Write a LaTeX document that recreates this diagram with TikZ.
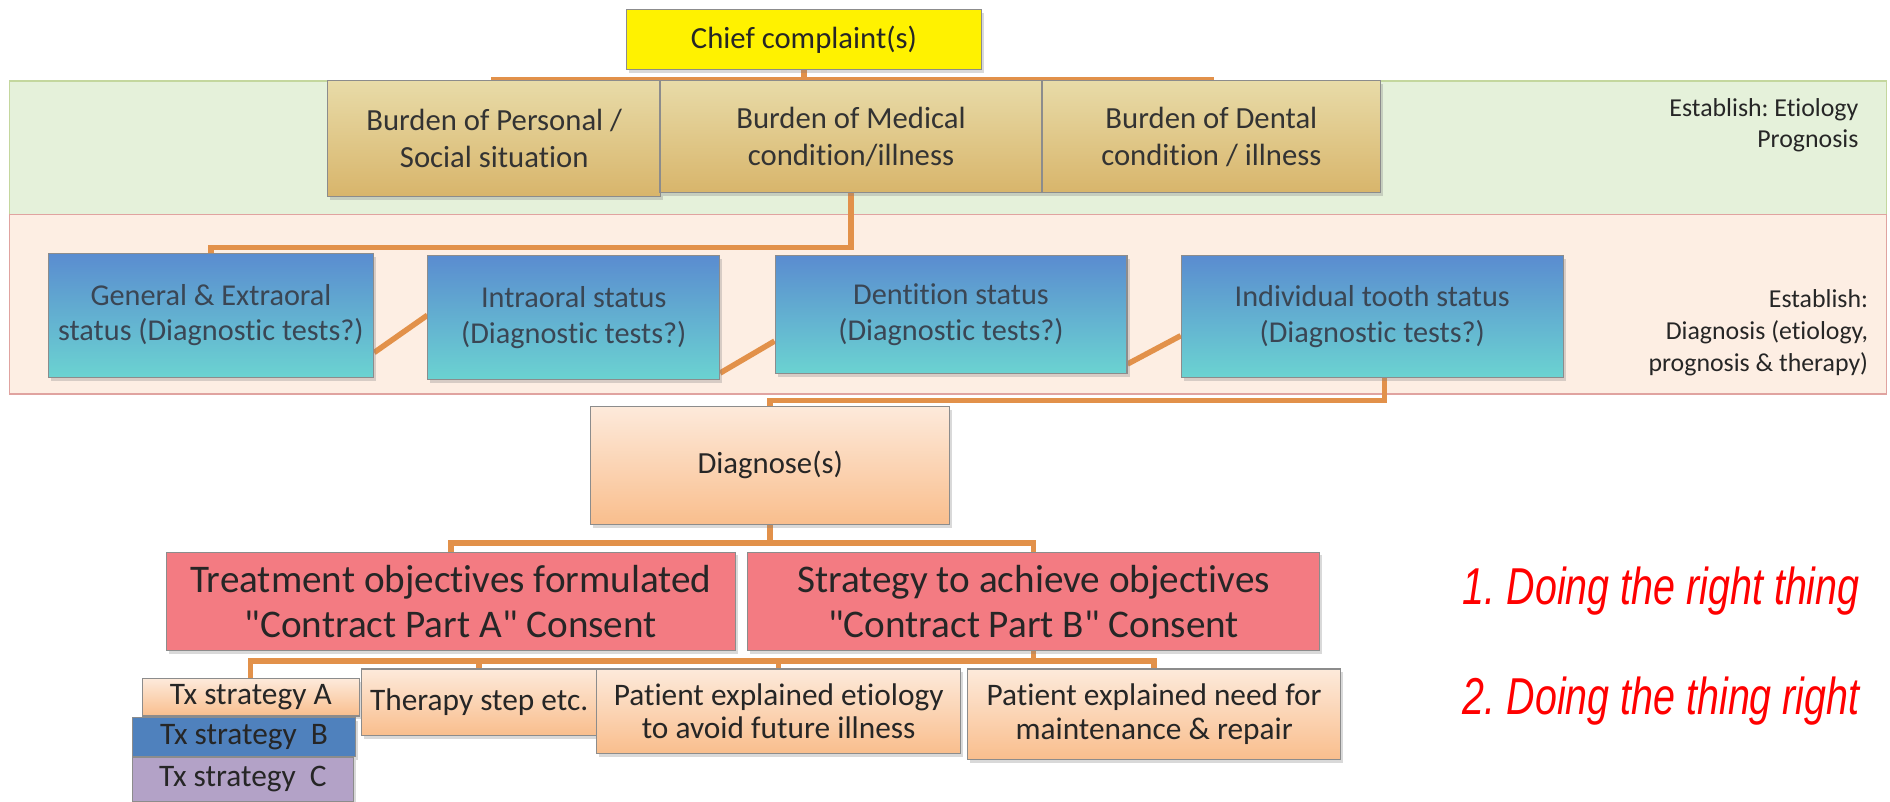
\documentclass[tikz,border=0pt]{standalone}
\usepackage{fontspec}
\setmainfont{Carlito}[Ligatures={TeXOff,NoCommon}]
\newfontfamily\mottofont[FakeStretch=0.76]{Liberation Sans}
\usetikzlibrary{calc, shadows}
\frenchspacing

\definecolor{connorange}{HTML}{E2914A}
\definecolor{greenband}{HTML}{E5F1DA}
\definecolor{greenline}{HTML}{C4D79E}
\definecolor{salmonband}{HTML}{FDEEE3}
\definecolor{salmonline}{HTML}{E0A3A0}
\definecolor{burdtop}{HTML}{E8DBA8}
\definecolor{burdbot}{HTML}{D8B56B}
\definecolor{statustop}{HTML}{5A8CD0}
\definecolor{statusbot}{HTML}{6BD3D1}
\definecolor{statustext}{HTML}{3A4654}
\definecolor{peachtop}{HTML}{FDEADB}
\definecolor{peachbot}{HTML}{F9BE8D}
\definecolor{contractred}{HTML}{F37B82}
\definecolor{txblue}{HTML}{4F81BD}
\definecolor{txlilac}{HTML}{B3A2C7}

\pgfdeclarelayer{bands}
\pgfdeclarelayer{lines}
\pgfsetlayers{bands,lines,main}

\tikzstyle{box} = [rectangle, draw=black!45, line width=0.5pt, align=center, text centered, inner sep=1pt, drop shadow={shadow xshift=1.2pt, shadow yshift=-1.6pt, opacity=0.3}]
\tikzstyle{chief} = [box, fill=yellow, text=black!85, minimum width=5.9cm, minimum height=1cm, font=\fontsize{14.5}{17}\selectfont]
\tikzstyle{burden} = [box, top color=burdtop, bottom color=burdbot, text=black!80, minimum height=1.86cm, font=\fontsize{14.5}{17.5}\selectfont]
\tikzstyle{status} = [box, top color=statustop, bottom color=statusbot, text=statustext, font=\fontsize{14.3}{16.8}\selectfont]
\tikzstyle{diag} = [box, top color=peachtop, bottom color=peachbot, text=black!85, font=\fontsize{14.5}{17}\selectfont]
\tikzstyle{contract} = [box, fill=contractred, text=black!85, minimum height=1.64cm, font=\fontsize{18.5}{21.5}\selectfont]
\tikzstyle{txbox} = [box, inner sep=0pt, text=black!85, font=\fontsize{14.8}{16}\selectfont]
\tikzstyle{explain} = [box, top color=peachtop, bottom color=peachbot, text=black!85, font=\fontsize{14.8}{15.8}\selectfont]
\tikzstyle{note} = [anchor=east, align=right, text=black!85, font=\fontsize{12.2}{15}\selectfont]
\tikzstyle{motto} = [anchor=east, text=red, font=\mottofont\itshape\fontsize{24.5}{28}\selectfont]
\tikzstyle{conn} = [draw=connorange, line width=2.6pt]

\begin{document}
\begin{tikzpicture}[x=0.02cm, y=-0.02cm]
\useasboundingbox (0,0) rectangle (1568,665);

% Bands
\begin{pgfonlayer}{bands}
\draw [fill=greenband, draw=greenline, line width=0.8pt] (8,67) rectangle (1565,178);
\draw [fill=salmonband, draw=salmonline, line width=0.8pt] (8,178) rectangle (1565,327);
\end{pgfonlayer}

\node (chief) [chief] at (667,33) {Chief complaint(s)};

\node (personal) [burden, minimum width=5.52cm, minimum height=1.92cm] at (410,115) {Burden of Personal /\\Social situation};
\node (medical) [burden, minimum width=6.34cm] at (706,113.5) {Burden of Medical\\condition/illness};
\node (dental) [burden, minimum width=5.6cm] at (1005,113.5) {Burden of Dental\\condition / illness};
\node (noteA) [note] at (1548,104) {Establish: Etiology\\Prognosis};

\node (general) [status, minimum width=5.4cm, minimum height=2.06cm] at (175,261.5) {General \& Extraoral\\status (Diagnostic tests?)};
\node (intraoral) [status, minimum width=4.84cm, minimum height=2.06cm] at (476,263.5) {Intraoral status\\(Diagnostic tests?)};
\node (dentition) [status, minimum width=5.84cm, minimum height=1.96cm] at (789,261) {Dentition status\\(Diagnostic tests?)};
\node (individual) [status, minimum width=6.34cm, minimum height=2.02cm] at (1138.5,262.5) {Individual tooth status\\(Diagnostic tests?)};
\node (noteB) [note] at (1556,276) {Establish:\\Diagnosis (etiology,\\prognosis \& therapy)};

\node (diagnose) [diag, minimum width=5.96cm, minimum height=1.96cm] at (639,386) {Diagnose(s)};

\node (treatment) [contract, minimum width=9.44cm] at (374,499) {Treatment objectives formulated\\"Contract Part A" Consent};
\node (strategy) [contract, minimum width=9.5cm] at (857.5,499) {Strategy to achieve objectives\\"Contract Part B" Consent};

\node (txa) [txbox, top color=peachtop, bottom color=peachbot, minimum width=3.6cm, minimum height=0.62cm] at (208,578.5) {Tx strategy A};
\node (txb) [txbox, fill=txblue, minimum width=3.7cm, minimum height=0.66cm] at (202.5,611.5) {Tx strategy~~B};
\node (txc) [txbox, fill=txlilac, minimum width=3.66cm, minimum height=0.74cm] at (201.5,646.5) {Tx strategy~~C};
\node (therapy) [explain, minimum width=3.9cm, minimum height=1.1cm] at (397.5,582.5) {Therapy step etc.};
\node (etiology) [explain, minimum width=6.04cm, minimum height=1.4cm] at (646,590) {Patient explained etiology\\to avoid future illness};
\node (need) [explain, minimum width=6.18cm, minimum height=1.5cm] at (957.5,592.5) {Patient explained need for\\maintenance \& repair};

\node (motto1) [motto] at (1549,490) {1. Doing the right thing};
\node (motto2) [motto] at (1549,582) {2. Doing the thing right};

% Lines
\begin{pgfonlayer}{lines}
\draw [conn] (chief.south) -- ++(0,8) -| (personal.north);
\draw [conn] (chief.south) -- ++(0,8) -| (medical.north);
\draw [conn] (chief.south) -- ++(0,8) -| (dental.north);

\draw [conn] (medical.south) -- ++(0,45) -| (general.north);
\draw [conn] ($(general.east)+(0,31)$) -- ($(intraoral.west)+(0,-2)$);
\draw [conn] ($(intraoral.east)+(0,46)$) -- ($(dentition.west)+(0,22)$);
\draw [conn] ($(dentition.east)+(0,41)$) -- ($(individual.west)+(0,16)$);

\draw [conn] ($(individual.south)+(10,0)$) -- ++(0,19) -| (diagnose.north);

\draw [conn] (diagnose.south) -- ++(0,15) -| (treatment.north);
\draw [conn] (diagnose.south) -- ++(0,15) -| (strategy.north);

\draw [conn] (strategy.south) -- ++(0,8) -| (txa.north);
\draw [conn] (strategy.south) -- ++(0,8) -| (therapy.north);
\draw [conn] (strategy.south) -- ++(0,8) -| (etiology.north);
\draw [conn] (strategy.south) -- ++(0,8) -| (need.north);
\end{pgfonlayer}

\end{tikzpicture}
\end{document}
